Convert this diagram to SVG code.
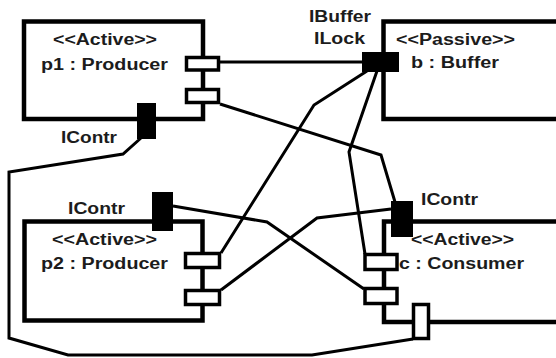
<svg xmlns="http://www.w3.org/2000/svg" width="556" height="358" viewBox="0 0 556 358">
<style>
.box{fill:none;stroke:#000;stroke-width:4.5}
.port{fill:#fff;stroke:#000;stroke-width:3.5}
.bport{fill:#000;stroke:none}
.wire{fill:none;stroke:#000;stroke-width:3;stroke-linejoin:miter}
text{font-family:"Liberation Sans",Arial,sans-serif;font-weight:bold;font-size:16px;fill:#1c1c1c}
</style>
<rect width="556" height="358" fill="#fff"/>
<g id="connectors">
<polyline class="wire" points="220,62 362,62"/>
<polyline class="wire" points="220,104 381,155 395,202"/>
<polyline class="wire" points="367,71 314,105 221,253"/>
<polyline class="wire" points="377,71 349,152 365,254"/>
<polyline class="wire" points="173,206 267,222 364,289"/>
<polyline class="wire" points="221,290 317,218 391,209"/>
<polyline class="wire" points="141,138 123,154 9,172 9,338 68,355 312,355 413,339"/>
</g>
<g id="p1">
<rect class="box" x="24" y="21.5" width="179" height="97.5"/>
<text x="53" y="45" textLength="104" lengthAdjust="spacingAndGlyphs">&lt;&lt;Active&gt;&gt;</text>
<text x="41" y="70" textLength="127" lengthAdjust="spacingAndGlyphs">p1 : Producer</text>
<rect class="port" x="186.5" y="57.5" width="32" height="12.5"/>
<rect class="port" x="186.5" y="89.5" width="32" height="13"/>
<rect class="bport" x="137" y="103" width="19" height="36"/>
<text x="61" y="143" textLength="56" lengthAdjust="spacingAndGlyphs">IContr</text>
</g>
<g id="b">
<rect class="box" x="383.5" y="21.5" width="200" height="97.5"/>
<text x="396" y="45" textLength="119" lengthAdjust="spacingAndGlyphs">&lt;&lt;Passive&gt;&gt;</text>
<text x="411" y="68" textLength="88" lengthAdjust="spacingAndGlyphs">b : Buffer</text>
<rect class="bport" x="362" y="52" width="37" height="20"/>
<text x="309" y="22" textLength="62" lengthAdjust="spacingAndGlyphs">IBuffer</text>
<text x="314" y="44" textLength="51" lengthAdjust="spacingAndGlyphs">ILock</text>
</g>
<g id="p2">
<rect class="box" x="24.5" y="221.5" width="178" height="99"/>
<text x="52" y="245" textLength="105" lengthAdjust="spacingAndGlyphs">&lt;&lt;Active&gt;&gt;</text>
<text x="41" y="269" textLength="127" lengthAdjust="spacingAndGlyphs">p2 : Producer</text>
<rect class="port" x="185.5" y="253.5" width="34" height="14"/>
<rect class="port" x="185.5" y="290.5" width="34" height="14"/>
<rect class="bport" x="152" y="192" width="21" height="39"/>
<text x="68" y="214" textLength="57" lengthAdjust="spacingAndGlyphs">IContr</text>
</g>
<g id="c">
<rect class="box" x="384" y="221.5" width="200" height="100.5"/>
<text x="411" y="245" textLength="103" lengthAdjust="spacingAndGlyphs">&lt;&lt;Active&gt;&gt;</text>
<text x="399" y="269" textLength="125" lengthAdjust="spacingAndGlyphs">c : Consumer</text>
<rect class="port" x="365" y="254.5" width="32" height="15"/>
<rect class="port" x="365" y="288.5" width="32" height="15"/>
<rect class="port" x="413.5" y="304.5" width="15" height="34"/>
<rect class="bport" x="391" y="201" width="22" height="36"/>
<text x="421" y="205" textLength="57" lengthAdjust="spacingAndGlyphs">IContr</text>
</g>
</svg>
